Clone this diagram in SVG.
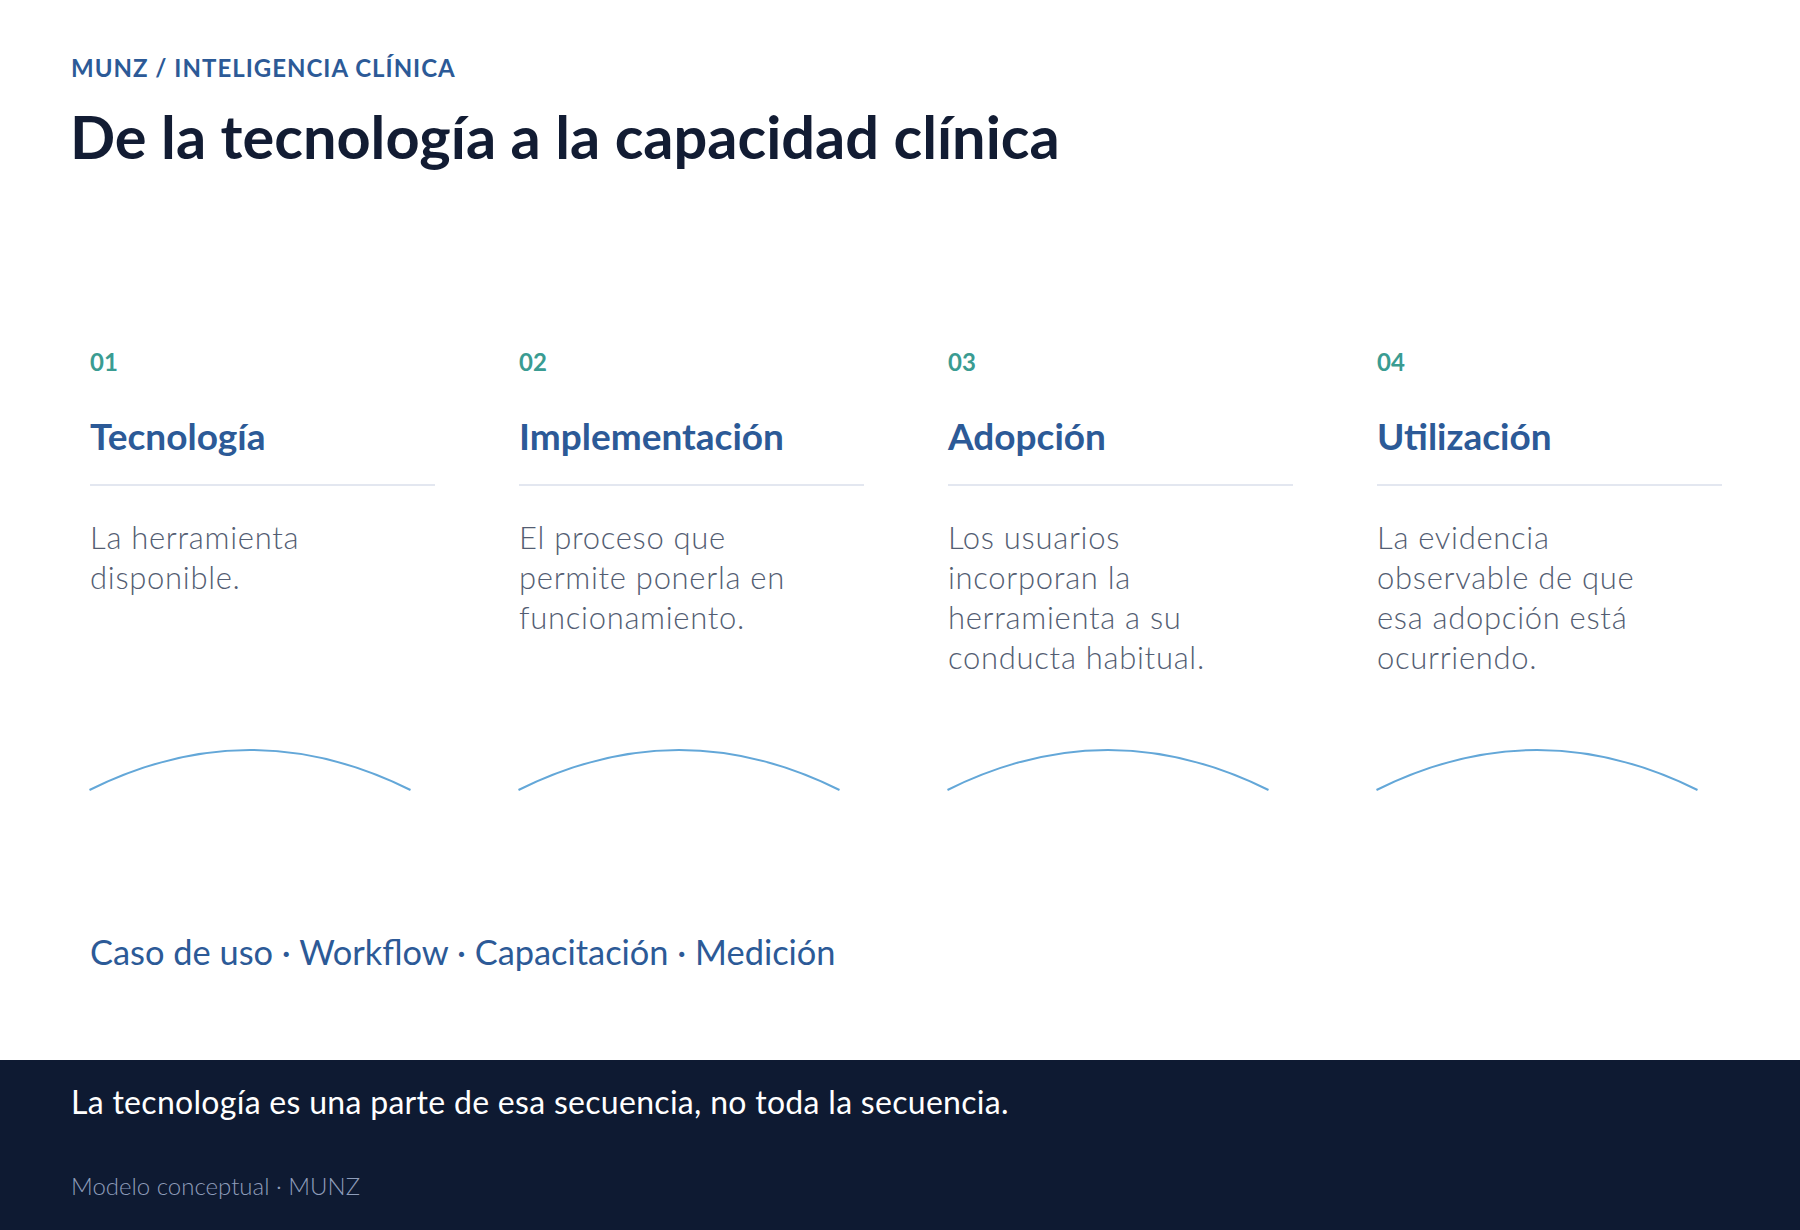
<svg xmlns="http://www.w3.org/2000/svg" width="1800" height="1230" viewBox="0 0 1800 1230">
<style>
  text { font-family: Lato, "Noto Sans", "Liberation Sans", sans-serif; }
  .kicker { font-size: 24px; font-weight: 700; fill: #2c5a97; letter-spacing: 1px; }
  .title { font-size: 59.5px; font-weight: 700; fill: #121c33; }
  .num { font-size: 24px; font-weight: 700; fill: #3a9c92; }
  .stage { font-size: 37px; font-weight: 700; fill: #2c5a97; }
  .body { font-size: 31px; font-weight: 300; fill: #535d72; letter-spacing: 0.7px; }
  .rule { stroke: #e3e7f0; stroke-width: 2; }
  .arc { fill: none; stroke: #63a7d8; stroke-width: 2; }
  .levers { font-size: 34.4px; font-weight: 400; fill: #2c5a97; }
  .foot { font-size: 32px; font-weight: 400; fill: #ffffff; letter-spacing: 0.3px; }
  .src { font-size: 24px; font-weight: 300; fill: #8e9dba; }
</style>
<rect x="0" y="0" width="1800" height="1230" fill="#ffffff"/>
<text class="kicker" x="71" y="77">MUNZ / INTELIGENCIA CLÍNICA</text>
<text class="title" x="70" y="159">De la tecnología a la capacidad clínica</text>

<g id="stage-1">
  <text class="num" x="90" y="371">01</text>
  <text class="stage" x="90" y="450">Tecnología</text>
  <line class="rule" x1="90" y1="485" x2="435" y2="485"/>
  <text class="body" x="90" y="549"><tspan x="90">La herramienta</tspan><tspan x="90" dy="40">disponible.</tspan></text>
  <path class="arc" d="M89.5 790 Q250 710 410.5 790"/>
</g>
<g id="stage-2">
  <text class="num" x="519" y="371">02</text>
  <text class="stage" x="519" y="450">Implementación</text>
  <line class="rule" x1="519" y1="485" x2="864" y2="485"/>
  <text class="body" x="519" y="549"><tspan x="519">El proceso que</tspan><tspan x="519" dy="40">permite ponerla en</tspan><tspan x="519" dy="40">funcionamiento.</tspan></text>
  <path class="arc" d="M518.5 790 Q679 710 839.5 790"/>
</g>
<g id="stage-3">
  <text class="num" x="948" y="371">03</text>
  <text class="stage" x="948" y="450">Adopción</text>
  <line class="rule" x1="948" y1="485" x2="1293" y2="485"/>
  <text class="body" x="948" y="549"><tspan x="948">Los usuarios</tspan><tspan x="948" dy="40">incorporan la</tspan><tspan x="948" dy="40">herramienta a su</tspan><tspan x="948" dy="40">conducta habitual.</tspan></text>
  <path class="arc" d="M947.5 790 Q1108 710 1268.5 790"/>
</g>
<g id="stage-4">
  <text class="num" x="1377" y="371">04</text>
  <text class="stage" x="1377" y="450">Utilización</text>
  <line class="rule" x1="1377" y1="485" x2="1722" y2="485"/>
  <text class="body" x="1377" y="549"><tspan x="1377">La evidencia</tspan><tspan x="1377" dy="40">observable de que</tspan><tspan x="1377" dy="40">esa adopción está</tspan><tspan x="1377" dy="40">ocurriendo.</tspan></text>
  <path class="arc" d="M1376.5 790 Q1537 710 1697.5 790"/>
</g>
<g id="connectors"></g>

<text class="levers" x="90" y="965">Caso de uso · Workflow · Capacitación · Medición</text>

<rect x="0" y="1060" width="1800" height="170" fill="#0e1a32"/>
<text class="foot" x="71" y="1114">La tecnología es una parte de esa secuencia, no toda la secuencia.</text>
<text class="src" x="71" y="1195">Modelo conceptual · MUNZ</text>
</svg>
